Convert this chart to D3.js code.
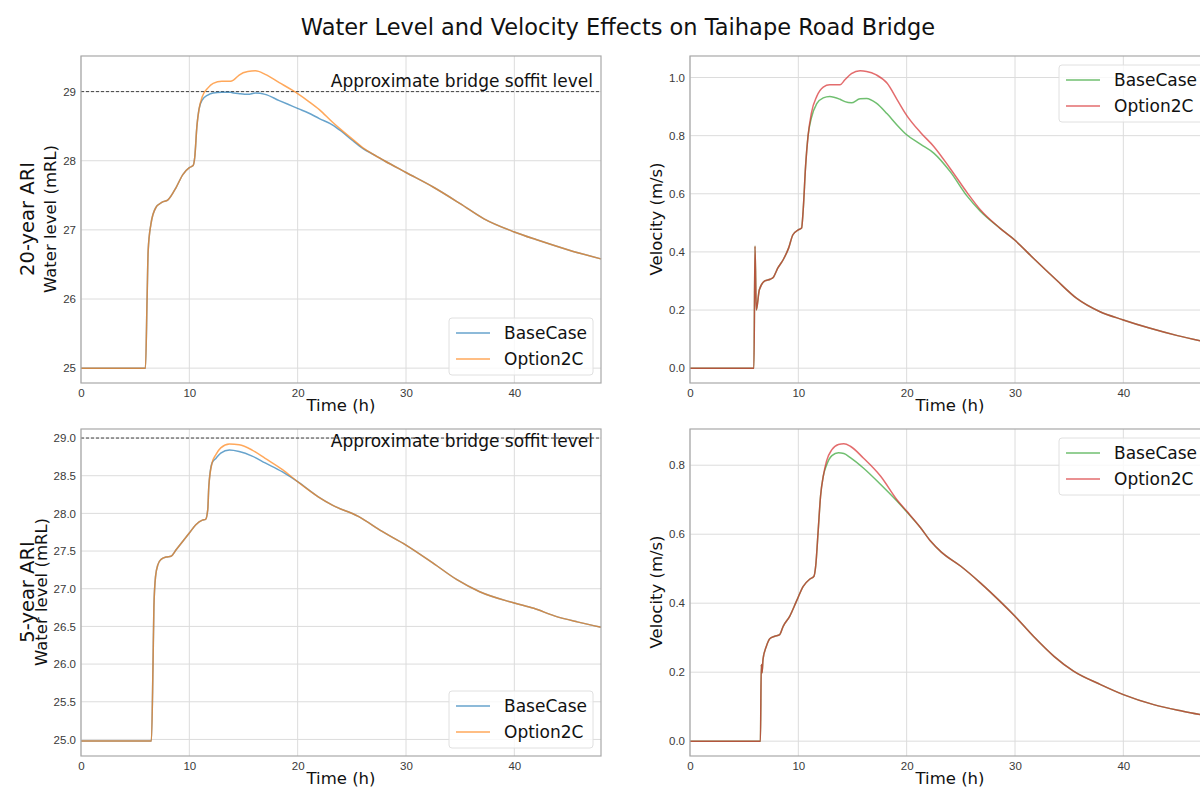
<!doctype html>
<html lang="en">
<head>
<meta charset="utf-8">
<title>Water Level and Velocity Effects on Taihape Road Bridge</title>
<style>
    html, body { margin: 0; padding: 0; background: #fff; }
    svg { display: block; font-family: "DejaVu Sans", sans-serif; }
    .grid line { stroke: #dcdcdc; stroke-width: 1; }
    .tick text { fill: #3a3a3a; font-size: 11.5px; }
</style>
<script src="https://cdnjs.cloudflare.com/ajax/libs/d3/7.8.5/d3.min.js"></script>
</head>
<body>
<svg width="1200" height="789"></svg>
<script>
    // 20-year ARI water level (mRL)
    var timeWL20 = [0, 5.95, 6.1, 6.2, 6.45, 6.9, 7.5, 8.0, 8.8, 9.4, 10.0, 10.35, 10.5, 10.7, 10.9, 11.2, 11.7, 12.2, 13.0, 13.8, 14.1, 14.6, 15.4, 16.1, 17.0, 18.3, 19.5, 20.1, 21.0, 22.0, 23.2, 24.0, 25.0, 26.0, 27.0, 28.0, 30.0, 32.5, 35.0, 37.2, 40.0, 42.0, 45.0, 48.0];
    var baseWL20 = [25.0, 25.0, 26.0, 26.7, 27.08, 27.32, 27.4, 27.43, 27.62, 27.8, 27.9, 27.93, 28.05, 28.5, 28.75, 28.88, 28.95, 28.98, 28.99, 28.99, 28.98, 28.97, 28.96, 28.98, 28.96, 28.87, 28.79, 28.75, 28.69, 28.61, 28.52, 28.43, 28.3, 28.18, 28.09, 28.0, 27.83, 27.62, 27.38, 27.16, 26.97, 26.86, 26.71, 26.58];
    var optWL20 = [25.0, 25.0, 26.0, 26.7, 27.08, 27.32, 27.4, 27.43, 27.62, 27.8, 27.9, 27.93, 28.05, 28.5, 28.75, 28.93, 29.05, 29.12, 29.15, 29.15, 29.17, 29.24, 29.29, 29.3, 29.25, 29.13, 29.02, 28.96, 28.86, 28.74, 28.56, 28.45, 28.32, 28.19, 28.09, 28.0, 27.83, 27.62, 27.38, 27.16, 26.97, 26.86, 26.71, 26.58];

    // 20-year ARI velocity (m/s)
    var timeV20 = [0, 5.9, 6.0, 6.12, 6.4, 6.9, 7.4, 7.7, 8.1, 8.6, 9.1, 9.5, 10.0, 10.3, 10.45, 10.67, 10.9, 11.2, 11.7, 12.3, 12.9, 13.85, 14.3, 14.9, 15.7, 16.3, 17.2, 18.2, 19.1, 20.0, 21.3, 22.5, 24.0, 25.6, 26.8, 28.6, 30.0, 31.7, 33.8, 35.7, 37.8, 40.0, 42.4, 45.0, 48.0];
    var baseV20 = [0, 0, 0.42, 0.2, 0.27, 0.3, 0.306, 0.313, 0.344, 0.373, 0.413, 0.459, 0.476, 0.482, 0.545, 0.695, 0.8, 0.86, 0.91, 0.93, 0.935, 0.925, 0.917, 0.913, 0.927, 0.928, 0.912, 0.875, 0.837, 0.803, 0.77, 0.74, 0.677, 0.591, 0.54, 0.482, 0.44, 0.378, 0.304, 0.24, 0.195, 0.166, 0.138, 0.112, 0.087];
    var optV20 = [0, 0, 0.42, 0.2, 0.27, 0.3, 0.306, 0.313, 0.344, 0.373, 0.413, 0.459, 0.476, 0.482, 0.545, 0.695, 0.8, 0.877, 0.935, 0.967, 0.975, 0.975, 0.992, 1.013, 1.023, 1.021, 1.009, 0.98, 0.925, 0.87, 0.81, 0.763, 0.688, 0.603, 0.545, 0.482, 0.44, 0.378, 0.304, 0.24, 0.195, 0.166, 0.138, 0.112, 0.087];

    // 5-year ARI water level (mRL)
    var timeWL5 = [0, 6.5, 6.64, 6.73, 6.88, 7.1, 7.4, 7.86, 8.3, 8.8, 9.4, 10.0, 10.6, 11.2, 11.5, 11.7, 11.8, 12.1, 12.45, 12.9, 13.7, 14.6, 15.8, 17.0, 18.6, 20.0, 21.9, 23.2, 25.6, 27.8, 30.0, 32.5, 34.7, 36.8, 40.0, 41.8, 43.7, 45.8, 48.0];
    var baseWL5 = [24.98, 24.98, 25.92, 26.76, 27.16, 27.32, 27.39, 27.42, 27.43, 27.52, 27.63, 27.74, 27.85, 27.91, 27.92, 28.05, 28.36, 28.67, 28.73, 28.8, 28.84, 28.82, 28.76, 28.67, 28.55, 28.42, 28.22, 28.11, 27.96, 27.76, 27.58, 27.34, 27.12, 26.96, 26.81, 26.74, 26.64, 26.56, 26.49];
    var optWL5 = [24.98, 24.98, 25.92, 26.76, 27.16, 27.32, 27.39, 27.42, 27.43, 27.52, 27.63, 27.74, 27.85, 27.91, 27.92, 28.05, 28.36, 28.67, 28.78, 28.87, 28.92, 28.91, 28.84, 28.73, 28.58, 28.42, 28.22, 28.11, 27.96, 27.76, 27.58, 27.34, 27.12, 26.96, 26.81, 26.74, 26.64, 26.56, 26.49];

    // 5-year ARI velocity (m/s)
    var timeV5 = [0, 6.5, 6.58, 6.65, 6.74, 7.05, 7.36, 7.82, 8.28, 8.6, 9.2, 9.83, 10.45, 11.07, 11.44, 11.6, 11.84, 12.05, 12.3, 12.6, 13.1, 13.7, 14.2, 14.8, 16.0, 17.6, 19.1, 20.0, 21.3, 22.2, 23.2, 25.0, 26.8, 28.6, 30.0, 31.7, 33.6, 35.4, 37.9, 40.0, 42.8, 45.5, 48.0];
    var baseV5 = [0, 0, 0.222, 0.198, 0.237, 0.275, 0.297, 0.304, 0.309, 0.333, 0.362, 0.406, 0.449, 0.47, 0.478, 0.507, 0.614, 0.71, 0.768, 0.8, 0.828, 0.836, 0.834, 0.822, 0.792, 0.744, 0.696, 0.665, 0.618, 0.58, 0.548, 0.507, 0.459, 0.406, 0.362, 0.304, 0.246, 0.203, 0.164, 0.135, 0.106, 0.087, 0.072];
    var optV5 = [0, 0, 0.222, 0.198, 0.237, 0.275, 0.297, 0.304, 0.309, 0.333, 0.362, 0.406, 0.449, 0.47, 0.478, 0.507, 0.614, 0.71, 0.768, 0.812, 0.845, 0.86, 0.862, 0.855, 0.821, 0.768, 0.7, 0.667, 0.618, 0.58, 0.548, 0.507, 0.459, 0.406, 0.362, 0.304, 0.246, 0.203, 0.164, 0.135, 0.106, 0.087, 0.072];

    var seriesNames = ["BaseCase", "Option2C"];
    var xTicks = [0, 10, 20, 30, 40];
    var wl20Ticks = [25, 26, 27, 28, 29];
    var wl5Ticks = [25.0, 25.5, 26.0, 26.5, 27.0, 27.5, 28.0, 28.5, 29.0];
    var v20Ticks = [0.0, 0.2, 0.4, 0.6, 0.8, 1.0];
    var v5Ticks = [0.0, 0.2, 0.4, 0.6, 0.8];
    var soffitLevel = 29;

    var svg = d3.select("svg");

    svg.append("text")
        .attr("x", 618).attr("y", 35)
        .attr("text-anchor", "middle")
        .attr("font-size", 22.5)
        .attr("fill", "#111")
        .text("Water Level and Velocity Effects on Taihape Road Bridge");

    function panel(opt) {
        var x = d3.scaleLinear().domain([0, 48]).range([opt.left, opt.left + 520]);
        var y = d3.scaleLinear().domain(opt.yDomain).range([opt.top + 327, opt.top]);
        var g = svg.append("g");

        // grid
        g.append("g").attr("class", "grid")
            .selectAll("line.v").data(xTicks).enter().append("line")
            .attr("x1", function(d) { return x(d); }).attr("x2", function(d) { return x(d); })
            .attr("y1", opt.top).attr("y2", opt.top + 327);
        g.append("g").attr("class", "grid")
            .selectAll("line.h").data(opt.yTicks).enter().append("line")
            .attr("x1", opt.left).attr("x2", opt.left + 520)
            .attr("y1", function(d) { return y(d); }).attr("y2", function(d) { return y(d); });

        // axes
        var xAxis = g.append("g")
            .attr("transform", "translate(0," + (opt.top + 327) + ")")
            .call(d3.axisBottom(x).tickValues(xTicks).tickSize(0).tickPadding(6).tickFormat(d3.format("d")));
        xAxis.select(".domain").remove();
        var yAxis = g.append("g")
            .attr("transform", "translate(" + opt.left + ",0)")
            .call(d3.axisLeft(y).tickValues(opt.yTicks).tickSize(0).tickPadding(5).tickFormat(d3.format(opt.fmt)));
        yAxis.select(".domain").remove();

        // soffit line
        if (opt.soffit) {
            g.append("line")
                .attr("x1", opt.left).attr("x2", opt.left + 520)
                .attr("y1", y(soffitLevel)).attr("y2", y(soffitLevel))
                .attr("stroke", "#444").attr("stroke-width", 1)
                .attr("stroke-dasharray", "3,2");
            g.append("text")
                .attr("x", opt.left + 512).attr("y", y(soffitLevel) + opt.soffitDy)
                .attr("text-anchor", "end")
                .attr("font-size", 17).attr("fill", "#111")
                .text("Approximate bridge soffit level");
        }

        // lines
        var line = d3.line()
            .x(function(d) { return x(d[0]); })
            .y(function(d) { return y(d[1]); })
            .curve(d3.curveMonotoneX);
        [opt.base, opt.opt].forEach(function(vals, i) {
            g.append("path")
                .datum(opt.time.map(function(t, k) { return [t, vals[k]]; }))
                .attr("fill", "none")
                .attr("stroke", opt.colors[i])
                .attr("stroke-opacity", 0.68)
                .attr("stroke-width", 1.5)
                .attr("d", line);
        });

        // frame
        g.append("rect")
            .attr("x", opt.left).attr("y", opt.top)
            .attr("width", 520).attr("height", 327)
            .attr("fill", "none").attr("stroke", "#a8a8a8").attr("stroke-width", 1.2);

        // labels
        g.append("text")
            .attr("x", opt.left + 260).attr("y", opt.top + 355)
            .attr("text-anchor", "middle").attr("font-size", 16.5).attr("fill", "#111")
            .text("Time (h)");
        g.append("text")
            .attr("transform", "translate(" + opt.ylabelX + "," + (opt.top + 163) + ") rotate(-90)")
            .attr("text-anchor", "middle").attr("font-size", 16.5).attr("fill", "#111")
            .text(opt.ylabel);
        if (opt.rowLabel) {
            g.append("text")
                .attr("transform", "translate(34," + (opt.top + 163) + ") rotate(-90)")
                .attr("text-anchor", "middle").attr("font-size", 19.5).attr("fill", "#111")
                .text(opt.rowLabel);
        }

        // legend
        var lg = g.append("g").attr("transform", "translate(" + opt.legendX + "," + opt.legendY + ")");
        lg.append("rect")
            .attr("width", 144).attr("height", 57).attr("rx", 3)
            .attr("fill", "#fff").attr("fill-opacity", 0.8)
            .attr("stroke", "#e0e0e0").attr("stroke-width", 1);
        seriesNames.forEach(function(name, i) {
            lg.append("line")
                .attr("x1", 7).attr("x2", 41)
                .attr("y1", 15 + i * 26).attr("y2", 15 + i * 26)
                .attr("stroke", opt.colors[i]).attr("stroke-opacity", 0.68).attr("stroke-width", 1.5);
            lg.append("text")
                .attr("x", 55).attr("y", 21 + i * 26)
                .attr("font-size", 17).attr("fill", "#111")
                .text(name);
        });
    }

    panel({ left: 81, top: 56, yDomain: [24.785, 29.515], yTicks: wl20Ticks, fmt: "d",
        time: timeWL20, base: baseWL20, opt: optWL20, colors: ["#1f77b4", "#ff7f0e"],
        soffit: true, soffitDy: -5, ylabel: "Water level (mRL)", ylabelX: 56, rowLabel: "20-year ARI",
        legendX: 449, legendY: 318 });
    panel({ left: 690, top: 56, yDomain: [-0.051, 1.074], yTicks: v20Ticks, fmt: ".1f",
        time: timeV20, base: baseV20, opt: optV20, colors: ["#2ca02c", "#d62728"],
        ylabel: "Velocity (m/s)", ylabelX: 662, legendX: 1059, legendY: 65 });
    panel({ left: 81, top: 429, yDomain: [24.78, 29.12], yTicks: wl5Ticks, fmt: ".1f",
        time: timeWL5, base: baseWL5, opt: optWL5, colors: ["#1f77b4", "#ff7f0e"],
        soffit: true, soffitDy: 9, ylabel: "Water level (mRL)", ylabelX: 47, rowLabel: "5-year ARI",
        legendX: 449, legendY: 691 });
    panel({ left: 690, top: 429, yDomain: [-0.043, 0.905], yTicks: v5Ticks, fmt: ".1f",
        time: timeV5, base: baseV5, opt: optV5, colors: ["#2ca02c", "#d62728"],
        ylabel: "Velocity (m/s)", ylabelX: 662, legendX: 1059, legendY: 438 });
</script>
</body>
</html>
